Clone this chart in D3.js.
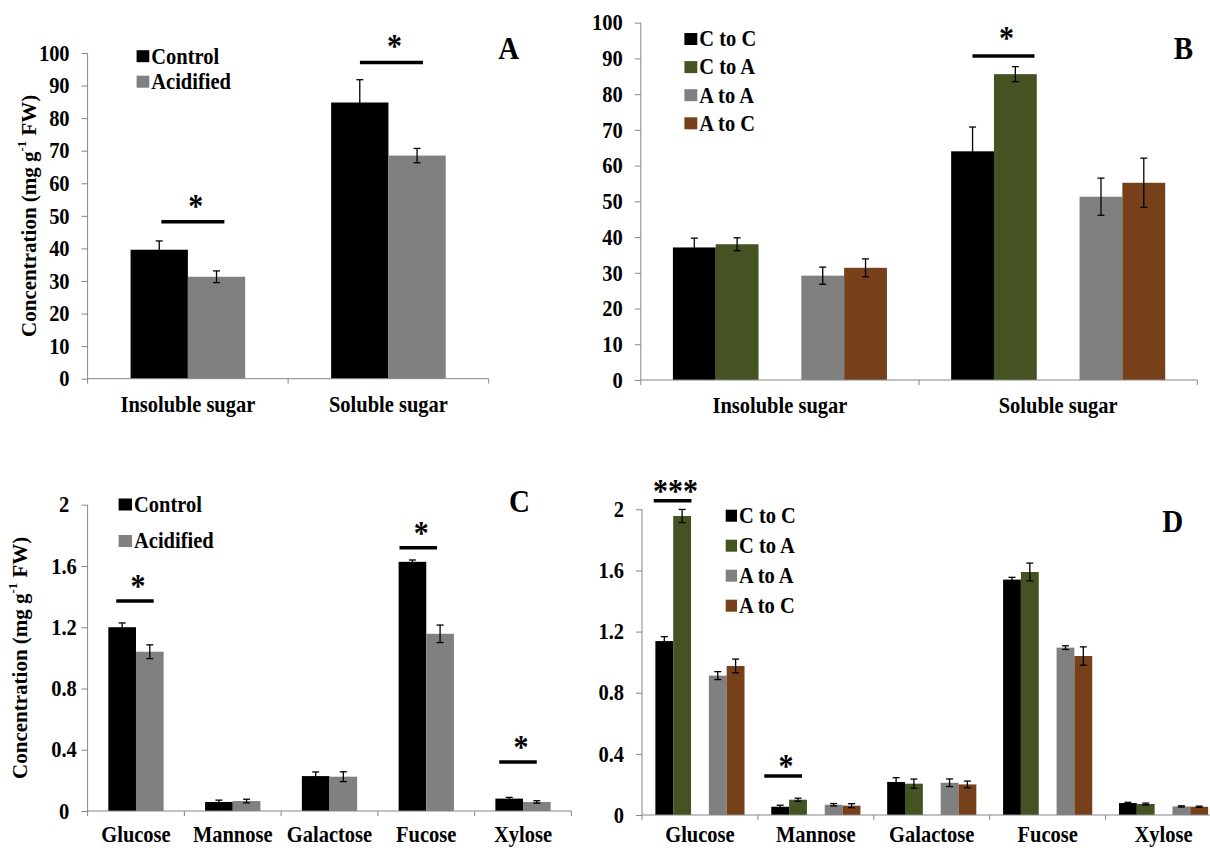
<!DOCTYPE html>
<html>
<head>
<meta charset="utf-8">
<script src="https://cdn.jsdelivr.net/npm/d3@7/dist/d3.min.js"></script>
<style>
  html, body { margin: 0; padding: 0; background: #fff; }
  svg { display: block; }
</style>
</head>
<body>
<svg id="chart" width="1210" height="850"></svg>
<script>
// ---------------- DATA ----------------
const sugarCategories = ["Insoluble sugar", "Soluble sugar"];
const monoCategories = ["Glucose", "Mannose", "Galactose", "Fucose", "Xylose"];

const seriesAB2 = ["Control", "Acidified"];
const seriesTransfer = ["C to C", "C to A", "A to A", "A to C"];

const yTicks100 = [0, 10, 20, 30, 40, 50, 60, 70, 80, 90, 100];
const yTickLabels100 = ["0", "10", "20", "30", "40", "50", "60", "70", "80", "90", "100"];
const yTicks2 = [0, 0.4, 0.8, 1.2, 1.6, 2];
const yTickLabels2 = ["0", "0.4", "0.8", "1.2", "1.6", "2"];

// Panel A
const aControl = [39.6, 84.8];
const aControlErr = [2.7, 7.0];
const aAcidified = [31.3, 68.5];
const aAcidifiedErr = [1.8, 2.2];

// Panel B
const bCtoC = [37.1, 64.0];
const bCtoCErr = [2.6, 6.8];
const bCtoA = [38.0, 85.6];
const bCtoAErr = [1.8, 2.1];
const bAtoA = [29.2, 51.3];
const bAtoAErr = [2.4, 5.2];
const bAtoC = [31.4, 55.2];
const bAtoCErr = [2.5, 6.9];

// Panel C
const cControl = [1.200, 0.059, 0.228, 1.627, 0.081];
const cControlErr = [0.028, 0.012, 0.027, 0.012, 0.008];
const cAcidified = [1.040, 0.065, 0.224, 1.157, 0.059];
const cAcidifiedErr = [0.045, 0.012, 0.032, 0.057, 0.008];

// Panel D
const dCtoC = [1.138, 0.054, 0.216, 1.540, 0.078];
const dCtoCErr = [0.029, 0.010, 0.028, 0.015, 0.005];
const dCtoA = [1.956, 0.100, 0.205, 1.590, 0.072];
const dCtoAErr = [0.043, 0.010, 0.030, 0.058, 0.006];
const dAtoA = [0.912, 0.067, 0.211, 1.095, 0.056];
const dAtoAErr = [0.026, 0.008, 0.025, 0.012, 0.004];
const dAtoC = [0.975, 0.061, 0.200, 1.040, 0.054];
const dAtoCErr = [0.045, 0.013, 0.022, 0.060, 0.004];

// Significance marks: category, level (y value of bar), label
const sigA = [["Insoluble sugar", 48.2, "*"], ["Soluble sugar", 97.1, "*"]];
const sigB = [["Soluble sugar", 90.7, "*"]];
const sigC = [["Glucose", 1.371, "*"], ["Fucose", 1.719, "*"], ["Xylose", 0.320, "*"]];
const sigD = [["Glucose", 2.056, "***"], ["Mannose", 0.255, "*"]];

// ---------------- STYLE / LAYOUT ----------------
const FONT = "'Liberation Serif','Times New Roman',Times,serif";
const FS = 20.5;
const STRETCH = 1.1;
const AXIS_COLOR = "#868686";
const colBlack = "#000000";
const colGray = "#808080";
const colGreen = "#455323";
const colBrown = "#76401b";

const svg = d3.select("#chart");
svg.append("rect").attr("width", 1210).attr("height", 850).attr("fill", "#fff");

function drawPanel(cfg) {
  const g = svg.append("g");
  const x = d3.scaleBand().domain(cfg.categories).range([cfg.axisX, cfg.axisEnd]).padding(0);
  const y = d3.scaleLinear().domain([0, cfg.yMax]).range([cfg.yBottom, cfg.yTop]);
  const bw = x.bandwidth() / (cfg.nSlots + 1.5);
  const slotX = (cat, slot) => x(cat) + 0.75 * bw + slot * bw;

  // Bars
  cfg.series.forEach((s, si) => {
    const slot = cfg.slots[si];
    g.selectAll(null).data(cfg.categories).enter().append("rect")
      .attr("x", c => slotX(c, slot))
      .attr("y", (c, i) => y(s.values[i]))
      .attr("width", bw)
      .attr("height", (c, i) => y(0) - y(s.values[i]))
      .attr("fill", s.color);
  });
  // Error bars
  cfg.series.forEach((s, si) => {
    const slot = cfg.slots[si];
    const cap = 3.5;
    cfg.categories.forEach((c, i) => {
      const cx = slotX(c, slot) + bw / 2;
      const v = s.values[i], e = s.errs[i];
      const y1 = y(v + e), y2 = y(Math.max(0, v - e));
      g.append("line").attr("x1", cx).attr("x2", cx).attr("y1", y1).attr("y2", y2)
        .attr("stroke", "#000").attr("stroke-width", 1.3);
      [y1, y2].forEach(yy => g.append("line").attr("x1", cx - cap).attr("x2", cx + cap)
        .attr("y1", yy).attr("y2", yy).attr("stroke", "#000").attr("stroke-width", 1.3));
    });
  });

  // Y axis
  const yAxis = d3.axisLeft(y).tickValues(cfg.yTicks)
    .tickFormat((d, i) => cfg.yTickLabels[i]).tickSize(6).tickPadding(12);
  const ya = g.append("g").attr("transform", `translate(${cfg.axisX},0)`).call(yAxis);
  ya.select(".domain").attr("stroke", AXIS_COLOR).attr("d", `M0,${cfg.yBottom}V${cfg.yTop}`);
  ya.selectAll(".tick line").attr("stroke", AXIS_COLOR);
  ya.selectAll(".tick text").attr("font-family", FONT).attr("font-weight", "bold")
    .attr("font-size", FS).attr("fill", "#000");
  if (cfg.centerTicks) {
    ya.selectAll(".tick text").attr("text-anchor", "middle").attr("x", -cfg.centerTicks);
  }

  // X axis
  g.append("line").attr("x1", cfg.axisX).attr("x2", cfg.axisEnd)
    .attr("y1", y(0)).attr("y2", y(0)).attr("stroke", AXIS_COLOR).attr("stroke-width", 1);
  const bounds = cfg.categories.map(c => x(c)).concat([x(cfg.categories[cfg.categories.length - 1]) + x.bandwidth()]);
  bounds.forEach(bx => g.append("line").attr("x1", bx).attr("x2", bx)
    .attr("y1", y(0)).attr("y2", y(0) + 5).attr("stroke", AXIS_COLOR));
  g.selectAll(null).data(cfg.categories).enter().append("text")
    .attr("x", c => x(c) + x.bandwidth() / 2)
    .attr("y", cfg.xLabelY)
    .attr("text-anchor", "middle")
    .attr("font-family", FONT).attr("font-weight", "bold").attr("font-size", FS)
    .text(c => c);

  // Y axis title
  if (cfg.yTitleX !== undefined) {
    const t = g.append("text")
      .attr("transform", `translate(${cfg.yTitleX},${(cfg.yTop + cfg.yBottom) / 2}) rotate(-90)`)
      .attr("text-anchor", "middle").attr("dominant-baseline", "central")
      .attr("font-family", FONT).attr("font-weight", "bold").attr("font-size", FS + 0.5);
    t.append("tspan").text("Concentration (mg g");
    t.append("tspan").attr("font-size", FS * 0.62).attr("dy", -7).text("-1");
    t.append("tspan").attr("dy", 7).text(" FW)");
  }

  // Legend
  cfg.series.forEach((s, si) => {
    const cy = cfg.legendY + si * cfg.legendStep;
    g.append("rect").attr("x", cfg.legendX).attr("y", cy - 6)
      .attr("width", cfg.legendSq).attr("height", 12).attr("fill", s.color);
    g.append("text").attr("x", cfg.legendX + cfg.legendSq + 2).attr("y", cy)
      .attr("dominant-baseline", "central")
      .attr("font-family", FONT).attr("font-weight", "bold").attr("font-size", FS)
      .text(s.name);
  });

  // Panel letter
  g.append("text").attr("x", cfg.letterX).attr("y", cfg.letterY).attr("text-anchor", "middle")
    .attr("font-family", FONT).attr("font-weight", "bold").attr("font-size", 29)
    .text(cfg.letter);

  // Significance
  cfg.sig.forEach((s, k) => {
    const [cat, level, label] = s;
    let cx;
    if (cfg.sigPair) cx = slotX(cat, 0) + bw; else cx = x(cat) + x.bandwidth() / 2;
    cx += cfg.sigShift[k];
    const ly = y(level);
    g.append("line").attr("x1", cx - cfg.sigW / 2).attr("x2", cx + cfg.sigW / 2)
      .attr("y1", ly).attr("y2", ly).attr("stroke", "#000").attr("stroke-width", 3.6);
    g.append("text").attr("x", cx + 3).attr("y", ly - cfg.starGap)
      .attr("text-anchor", "middle")
      .attr("font-family", FONT).attr("font-weight", "bold").attr("font-size", 30)
      .text(label);
  });
}

// Panel A
drawPanel({
  categories: sugarCategories,
  series: [
    { name: seriesAB2[0], values: aControl, errs: aControlErr, color: colBlack },
    { name: seriesAB2[1], values: aAcidified, errs: aAcidifiedErr, color: colGray }
  ],
  slots: [0, 1], nSlots: 2,
  axisX: 87.6, axisEnd: 488.7, yBottom: 378.7, yTop: 53, yMax: 100,
  yTicks: yTicks100, yTickLabels: yTickLabels100,
  xLabelY: 411.7, yTitleX: 28.7,
  legendX: 136.6, legendY: 56.2, legendStep: 25.5, legendSq: 12.7,
  letter: "A", letterX: 508.6, letterY: 59.5,
  sig: sigA, sigPair: false, sigShift: [5, 3], sigW: 63, starGap: 5
});

// Panel B
drawPanel({
  categories: sugarCategories,
  series: [
    { name: seriesTransfer[0], values: bCtoC, errs: bCtoCErr, color: colBlack },
    { name: seriesTransfer[1], values: bCtoA, errs: bCtoAErr, color: colGreen },
    { name: seriesTransfer[2], values: bAtoA, errs: bAtoAErr, color: colGray },
    { name: seriesTransfer[3], values: bAtoC, errs: bAtoCErr, color: colBrown }
  ],
  slots: [0, 1, 3, 4], nSlots: 5,
  axisX: 640.8, axisEnd: 1197.3, yBottom: 380, yTop: 22.7, yMax: 100,
  yTicks: yTicks100, yTickLabels: yTickLabels100,
  xLabelY: 413,
  legendX: 684.4, legendY: 39, legendStep: 28.1, legendSq: 12.9,
  letter: "B", letterX: 1183.3, letterY: 59.5,
  sig: sigB, sigPair: true, sigShift: [9.5], sigW: 62, starGap: 7
});

// Panel C
drawPanel({
  categories: monoCategories,
  series: [
    { name: seriesAB2[0], values: cControl, errs: cControlErr, color: colBlack },
    { name: seriesAB2[1], values: cAcidified, errs: cAcidifiedErr, color: colGray }
  ],
  slots: [0, 1], nSlots: 2,
  axisX: 87.6, axisEnd: 571.4, yBottom: 811, yTop: 504.7, yMax: 2,
  yTicks: yTicks2, yTickLabels: yTickLabels2, centerTicks: 23.6,
  xLabelY: 842, yTitleX: 20,
  legendX: 118.6, legendY: 504.5, legendStep: 36.5, legendSq: 13.4,
  letter: "C", letterX: 519.5, letterY: 512,
  sig: sigC, sigPair: false, sigShift: [-1, -8, -5], sigW: 37.5, starGap: 4
});

// Panel D
drawPanel({
  categories: monoCategories,
  series: [
    { name: seriesTransfer[0], values: dCtoC, errs: dCtoCErr, color: colBlack },
    { name: seriesTransfer[1], values: dCtoA, errs: dCtoAErr, color: colGreen },
    { name: seriesTransfer[2], values: dAtoA, errs: dAtoAErr, color: colGray },
    { name: seriesTransfer[3], values: dAtoC, errs: dAtoCErr, color: colBrown }
  ],
  slots: [0, 1, 3, 4], nSlots: 5,
  axisX: 642, axisEnd: 1221.5, yBottom: 815, yTop: 509.3, yMax: 2,
  yTicks: yTicks2, yTickLabels: yTickLabels2,
  xLabelY: 842.5,
  legendX: 725.7, legendY: 515.7, legendStep: 30, legendSq: 11.3,
  letter: "D", letterX: 1172.8, letterY: 532.5,
  sig: sigD, sigPair: true, sigShift: [-0.6, -6], sigW: 37.7, starGap: -1
});

// Slight vertical stretch of horizontal text (the reference figure is stretched vertically)
svg.selectAll("text").each(function () {
  if (this.getAttribute("transform")) return;
  const y0 = +this.getAttribute("y") || 0;
  d3.select(this).attr("transform", `translate(0,${(1 - STRETCH) * y0}) scale(1,${STRETCH})`);
});
</script>
</body>
</html>
